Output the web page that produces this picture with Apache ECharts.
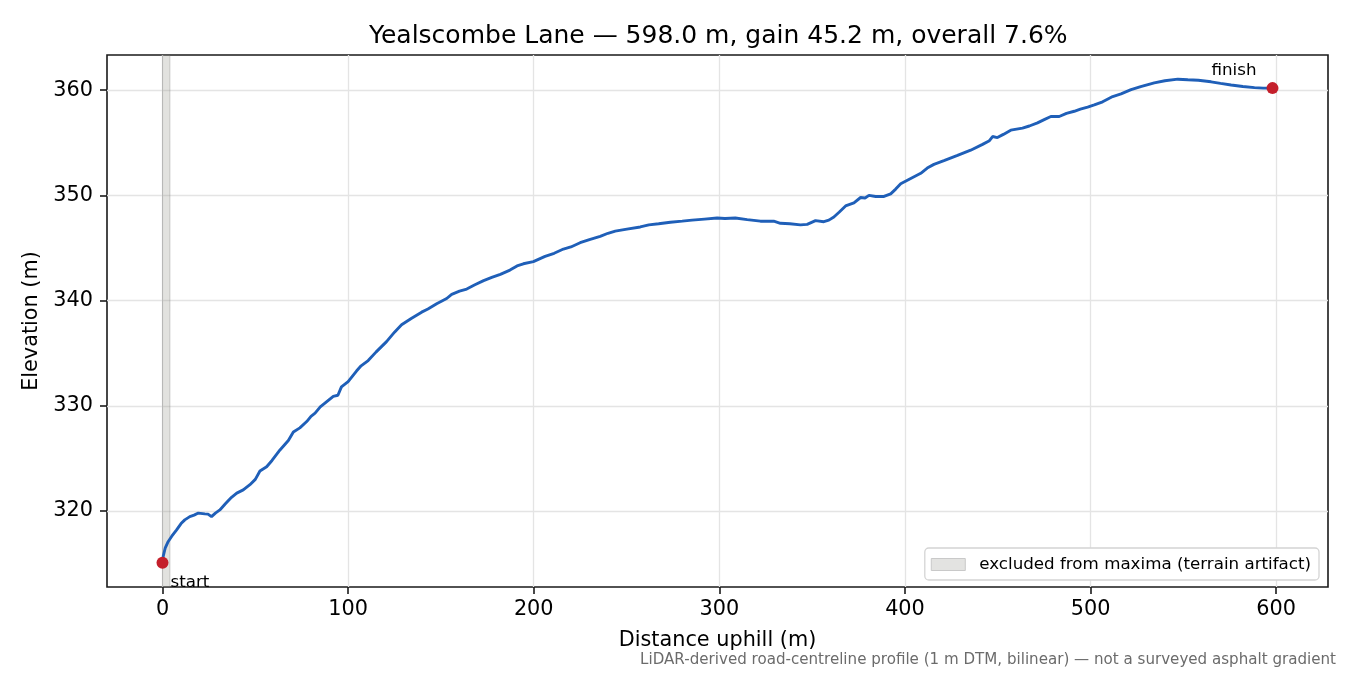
<!DOCTYPE html>
<html>
<head>
<meta charset="utf-8">
<title>Yealscombe Lane profile</title>
<script src="https://cdn.jsdelivr.net/npm/echarts@6/dist/echarts.min.js"></script>
<style>
  html, body { margin: 0; padding: 0; background: #fff; }
  #profile { width: 1350px; height: 675px; }
</style>
</head>
<body>
<div id="profile"></div>
<script>
// distance along the lane (m) and elevation (m)
var dist = [0, 0.4, 1.5, 3.1, 5.0, 7.6, 10.0, 12.0, 14.7, 17.0, 19.3, 22.8, 24.5, 26.4, 28.5, 30.9,
  34.0, 37.2, 40.0, 43.5, 47.1, 50.0, 52.5, 56.1, 59.0, 63.3, 67.8, 70.5, 74.0, 77.7, 80.0, 82.2,
  85.0, 88.5, 92.0, 94.5, 96.4, 100.0, 104.5, 107.0, 110.8, 115.0, 120.7, 125.0, 128.8, 134.0,
  139.6, 143.0, 147.7, 153.1, 155.8, 160.0, 163.9, 168.3, 173.0, 177.4, 182.0, 187.2, 191.0,
  194.4, 199.8, 206.1, 211.0, 216.0, 220.0, 225.0, 230.0, 235.8, 240.0, 243.9, 250.2, 257.4,
  262.0, 267.3, 273.6, 280.0, 285.3, 292.0, 298.8, 303.0, 308.6, 315.0, 322.1, 329.3, 332.9,
  338.0, 343.7, 347.3, 351.8, 356.3, 359.0, 361.7, 364.5, 368.0, 372.5, 376.1, 378.5, 380.6,
  384.2, 388.7, 392.3, 395.0, 397.7, 403.1, 408.5, 412.0, 415.6, 421.0, 428.3, 435.4, 441.8,
  445.5, 447.2, 449.8, 453.0, 457.0, 463.3, 467.0, 471.4, 475.0, 478.6, 483.1, 487.0, 491.2,
  494.5, 498.4, 502.0, 506.5, 511.9, 516.4, 521.8, 527.0, 534.3, 540.0, 547.0, 552.4, 558.0,
  564.9, 570.0, 575.7, 582.0, 588.3, 593.0, 598.0];
var elev = [315.07, 315.7, 316.5, 317.1, 317.6, 318.2, 318.8, 319.15, 319.46, 319.6, 319.8, 319.72,
  319.7, 319.46, 319.8, 320.1, 320.7, 321.3, 321.7, 322.0, 322.5, 323.0, 323.8, 324.2, 324.8,
  325.8, 326.7, 327.5, 327.9, 328.5, 329.0, 329.3, 329.9, 330.4, 330.9, 331.0, 331.8, 332.3,
  333.3, 333.8, 334.3, 335.1, 336.1, 337.0, 337.7, 338.3, 338.9, 339.2, 339.7, 340.2, 340.6,
  340.9, 341.1, 341.5, 341.9, 342.2, 342.5, 342.9, 343.3, 343.5, 343.7, 344.2, 344.5, 344.9,
  345.1, 345.5, 345.8, 346.1, 346.4, 346.6, 346.8, 347.0, 347.2, 347.3, 347.45, 347.55, 347.65,
  347.75, 347.85, 347.8, 347.85, 347.7, 347.55, 347.55, 347.35, 347.3, 347.2, 347.25, 347.6,
  347.5, 347.65, 347.95, 348.4, 349.0, 349.3, 349.8, 349.75, 350.0, 349.9, 349.9, 350.15, 350.6,
  351.1, 351.6, 352.1, 352.6, 352.95, 353.3, 353.8, 354.3, 354.85, 355.2, 355.6, 355.5, 355.8,
  356.2, 356.4, 356.6, 356.9, 357.2, 357.5, 357.5, 357.8, 358.0, 358.2, 358.4, 358.6, 358.9,
  359.4, 359.65, 360.05, 360.35, 360.7, 360.9, 361.05, 361.0, 360.95, 360.8, 360.65, 360.5,
  360.35, 360.25, 360.2, 360.2];

// stretch left out of the maxima search
var excludedRange = [0, 4];
var endLabels = ['start', 'finish'];

var xTicks = [0, 100, 200, 300, 400, 500, 600];
var yTicks = [320, 330, 340, 350, 360];

var titleText = 'Yealscombe Lane \u2014 598.0 m, gain 45.2 m, overall 7.6%';
var bandName = 'excluded from maxima (terrain artifact)';
var noteText = 'LiDAR-derived road-centreline profile (1 m DTM, bilinear) \u2014 not a surveyed asphalt gradient';

var FONT = 'DejaVu Sans';

var profile = dist.map(function (d, i) { return [d, elev[i]]; });
var last = dist.length - 1;
var ends = [
  {
    value: [dist[0], elev[0]],
    label: { show: true, formatter: endLabels[0], position: [14, 26], align: 'left', verticalAlign: 'middle', color: '#000' }
  },
  {
    value: [dist[last], elev[last]],
    label: { show: true, formatter: endLabels[1], position: [-10, -11], align: 'right', verticalAlign: 'middle', color: '#000' }
  }
];

// matplotlib-like 5% margins around the data
var xSpan = dist[last] - dist[0];
var yLo = Math.min.apply(null, elev), yHi = Math.max.apply(null, elev);
var ySpan = yHi - yLo;

var myChart = echarts.init(document.getElementById('profile'), null, { renderer: 'canvas' });

var option = {
  animation: false,
  backgroundColor: '#ffffff',
  textStyle: { fontFamily: FONT },
  title: {
    text: titleText,
    left: 364,
    top: 19,
    textStyle: { fontFamily: FONT, fontSize: 25, fontWeight: 'normal', color: '#000' }
  },
  legend: {
    right: 31,
    top: 548,
    orient: 'vertical',
    padding: [8, 8, 7, 6],
    backgroundColor: '#fff',
    borderColor: '#d4d4d4',
    borderWidth: 1.3,
    borderRadius: 4,
    itemWidth: 34,
    itemHeight: 12,
    textStyle: { fontFamily: FONT, fontSize: 16.7, color: '#000', padding: [0, 0, 0, 9] },
    data: [{
      name: bandName,
      icon: 'rect',
      itemStyle: { color: '#e3e3e1', borderColor: '#c9c9c9', borderWidth: 1 }
    }]
  },
  grid: {
    left: 107,
    right: 22,
    top: 55,
    bottom: 88,
    show: true,
    borderColor: '#1a1a1a',
    borderWidth: 1.6,
    outerBoundsMode: 'none'
  },
  xAxis: {
    type: 'value',
    min: dist[0] - xSpan * 0.05,
    max: dist[last] + xSpan * 0.05,
    name: 'Distance uphill (m)',
    nameLocation: 'middle',
    nameGap: 43,
    nameTextStyle: { fontFamily: FONT, fontSize: 20.8, color: '#000' },
    axisLine: { show: false, onZero: false },
    axisTick: { show: true, length: 7, customValues: xTicks, lineStyle: { color: '#1a1a1a', width: 1.6 } },
    axisLabel: { customValues: xTicks, margin: 12, fontFamily: FONT, fontSize: 20.8, color: '#000' },
    splitLine: { show: true, lineStyle: { color: '#e4e4e4', width: 1.3 } }
  },
  yAxis: {
    type: 'value',
    min: yLo - ySpan * 0.05,
    max: yHi + ySpan * 0.05,
    name: 'Elevation (m)',
    nameLocation: 'middle',
    nameGap: 62,
    nameRotate: 90,
    nameTextStyle: { fontFamily: FONT, fontSize: 20.8, color: '#000' },
    axisLine: { show: false, onZero: false },
    axisTick: { show: true, length: 7, customValues: yTicks, lineStyle: { color: '#1a1a1a', width: 1.6 } },
    axisLabel: { customValues: yTicks, margin: 14, fontFamily: FONT, fontSize: 20.8, color: '#000' },
    splitLine: { show: true, lineStyle: { color: '#e4e4e4', width: 1.3 } }
  },
  series: [
    {
      name: bandName,
      type: 'line',
      data: [],
      silent: true,
      lineStyle: { opacity: 0 },
      markArea: {
        silent: true,
        itemStyle: { color: 'rgba(150,150,140,0.28)', borderColor: 'rgba(110,110,110,0.3)', borderWidth: 1 },
        data: [[{ xAxis: excludedRange[0] }, { xAxis: excludedRange[1] }]]
      }
    },
    {
      name: 'profile',
      type: 'line',
      data: profile,
      showSymbol: false,
      smooth: false,
      z: 3,
      lineStyle: { color: '#1f5fb8', width: 2.9 },
      itemStyle: { color: '#1f5fb8' }
    },
    {
      name: 'ends',
      type: 'scatter',
      data: ends,
      symbolSize: 12,
      z: 4,
      itemStyle: { color: '#c41f2b', opacity: 1 },
      label: { fontFamily: FONT, fontSize: 16.7, color: '#000' }
    }
  ],
  graphic: [{
    type: 'text',
    right: 14,
    top: 653,
    style: { text: noteText, font: '15.1px "DejaVu Sans"', fill: '#6b6b6b' }
  }]
};

myChart.setOption(option);
</script>
</body>
</html>
